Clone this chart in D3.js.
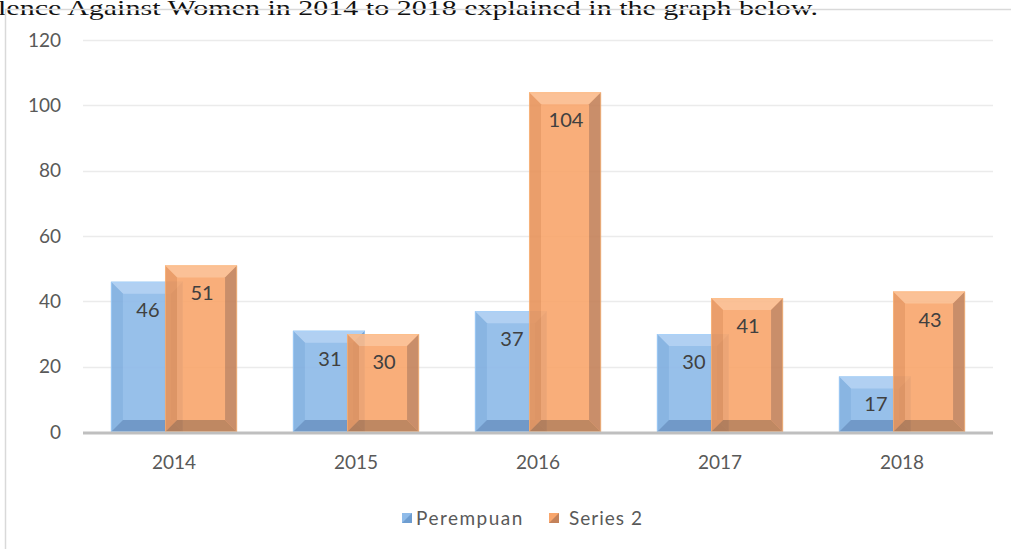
<!DOCTYPE html>
<html>
<head>
<meta charset="utf-8">
<script src="https://cdn.jsdelivr.net/npm/d3@7"></script>
<style>
  html, body { margin: 0; padding: 0; background: #fff; }
  svg { display: block; }
</style>
</head>
<body>
<div id="container"></div>
<script>
// data
const years = ["2014", "2015", "2016", "2017", "2018"];
const perempuan = [46, 31, 37, 30, 17];
const series2 = [51, 30, 104, 41, 43];
const seriesNames = ["Perempuan", "Series 2"];
const yTicks = [0, 20, 40, 60, 80, 100, 120];

const W = 1011, H = 549;
const plot = { left: 83, right: 993, top: 40, bottom: 432 };

const svg = d3.select("#container").append("svg")
  .attr("width", W).attr("height", H);

// cropped sentence from the page above the chart
svg.append("text")
  .attr("x", -2).attr("y", 15)
  .attr("font-family", "Liberation Serif, serif")
  .attr("font-size", 22)
  .attr("fill", "#111")
  .attr("textLength", 820)
  .attr("lengthAdjust", "spacingAndGlyphs")
  .text("lence Against Women in 2014 to 2018 explained in the graph below.");

// chart frame
svg.append("path")
  .attr("d", `M5.5,${H} V9.5 H${W}`)
  .attr("fill", "none")
  .attr("stroke", "#d9d9d9")
  .attr("stroke-width", 1.5);

const x = d3.scaleBand().domain(years).range([plot.left, plot.right]);
const y = d3.scaleLinear().domain([0, 120]).range([plot.bottom, plot.top]);

// gridlines
svg.append("g").selectAll("line")
  .data(yTicks.filter(d => d > 0))
  .join("line")
  .attr("x1", plot.left).attr("x2", plot.right)
  .attr("y1", d => Math.round(y(d)) + 0.5).attr("y2", d => Math.round(y(d)) + 0.5)
  .attr("stroke", "#ebebeb").attr("stroke-width", 1.5);

// y axis labels
const yAxis = svg.append("g")
  .attr("transform", `translate(${plot.left}, 0)`)
  .call(d3.axisLeft(y).tickValues(yTicks).tickSize(0).tickPadding(22));
yAxis.select(".domain").remove();
yAxis.selectAll("text")
  .attr("font-family", "Lato, sans-serif")
  .attr("font-size", 19)
  .attr("fill", "#595959");

// bar geometry
const barW = x.bandwidth() * 0.396;
const overlap = barW * 0.25;
const offsets = [-(barW * 2 - overlap) / 2, -(barW * 2 - overlap) / 2 + barW - overlap];

const palettes = [
  { face: "#8fbbe9", top: "#abcdf1", left: "#80afe0", right: "#6e9dd0", bottom: "#6591c4", op: 0.92 },
  { face: "#f9a66c", top: "#fbbb8c", left: "#e8945b", right: "#c4825a", bottom: "#b97c52", op: 0.9 }
];

const bevel = 12;

function drawBar(g, x0, y0, w, h, p) {
  const b = Math.min(bevel, h / 2.5, w / 4);
  const x1 = x0 + w, y1 = y0 + h;
  const grp = g.append("g").attr("opacity", p.op);
  grp.append("rect").attr("x", x0).attr("y", y0).attr("width", w).attr("height", h).attr("fill", p.face);
  const poly = (pts, fill) => grp.append("polygon")
    .attr("points", pts.map(q => q.join(",")).join(" ")).attr("fill", fill);
  poly([[x0, y0], [x1, y0], [x1 - b, y0 + b], [x0 + b, y0 + b]], p.top);
  poly([[x0, y0], [x0 + b, y0 + b], [x0 + b, y1 - b], [x0, y1]], p.left);
  poly([[x1, y0], [x1, y1], [x1 - b, y1 - b], [x1 - b, y0 + b]], p.right);
  poly([[x0, y1], [x0 + b, y1 - b], [x1 - b, y1 - b], [x1, y1]], p.bottom);
  grp.append("rect").attr("x", x0 + 0.5).attr("y", y0 + 0.5).attr("width", w - 1).attr("height", h - 1)
    .attr("fill", "none").attr("stroke", d3.color(p.face).brighter(0.3)).attr("stroke-opacity", 0.6);
}

const bars = svg.append("g");
const allSeries = [perempuan, series2];
allSeries.forEach((vals, si) => {
  vals.forEach((v, i) => {
    const cx = x(years[i]) + x.bandwidth() / 2;
    const x0 = cx + offsets[si];
    drawBar(bars, x0, y(v), barW, y(0) - y(v), palettes[si]);
  });
});

// data labels
allSeries.forEach((vals, si) => {
  svg.append("g").selectAll("text")
    .data(vals)
    .join("text")
    .attr("x", (d, i) => x(years[i]) + x.bandwidth() / 2 + offsets[si] + barW / 2 + 1)
    .attr("y", d => y(d) + 35)
    .attr("text-anchor", "middle")
    .attr("font-family", "Lato, sans-serif")
    .attr("font-size", 20)
    .attr("fill", "#404040")
    .text(d => d);
});

// x axis
svg.append("line")
  .attr("x1", plot.left).attr("x2", plot.right)
  .attr("y1", plot.bottom + 1).attr("y2", plot.bottom + 1)
  .attr("stroke", "#bfbfbf").attr("stroke-width", 3);

const xAxis = svg.append("g")
  .attr("transform", `translate(0, ${plot.bottom})`)
  .call(d3.axisBottom(x).tickSize(0).tickPadding(24));
xAxis.select(".domain").remove();
xAxis.selectAll("text")
  .attr("font-family", "Lato, sans-serif")
  .attr("font-size", 19)
  .attr("fill", "#595959");

// legend
const legend = svg.append("g");
const legendX = [402, 549];
seriesNames.forEach((name, i) => {
  const p = palettes[i];
  const g = legend.append("g").attr("transform", `translate(${legendX[i]}, 513)`);
  g.append("rect").attr("width", 10).attr("height", 10).attr("fill", p.face);
  g.append("polygon").attr("points", "0,10 10,0 10,10").attr("fill", p.right);
  g.append("text")
    .attr("x", i === 0 ? 14 : 20).attr("y", 12)
    .attr("font-family", "Lato, sans-serif")
    .attr("font-size", 19)
    .attr("letter-spacing", i === 0 ? 1.5 : 1)
    .attr("fill", "#595959")
    .text(name);
});
</script>
</body>
</html>
